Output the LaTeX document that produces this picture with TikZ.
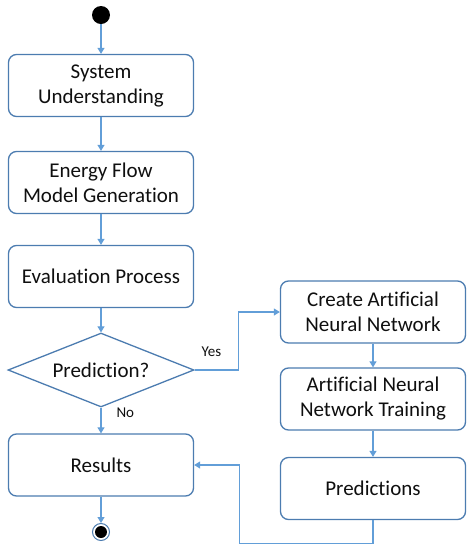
\documentclass[tikz,border=0pt]{standalone}
\usepackage{fontspec}
\setmainfont{Carlito}[Ligatures=NoCommon]
\usetikzlibrary{positioning,arrows.meta,calc,shapes.geometric}
\definecolor{flBox}{RGB}{76,124,176}
\definecolor{flLine}{RGB}{98,158,216}
\definecolor{flText}{RGB}{15,15,15}
\tikzset{
    base/.style={font=\fontsize{21}{25}\selectfont, align=center, text=flText},
    stage/.style={base, rectangle, rounded corners=8pt, draw=flBox, line width=1.3pt,
                  fill=white, minimum width=185pt, minimum height=62pt, inner sep=2pt},
    decision/.style={base, diamond, draw=flBox, line width=1.3pt, fill=white,
                     aspect=2.5, inner sep=0pt, minimum width=186pt, minimum height=74pt},
    startpt/.style={circle, fill=black, minimum size=18pt, inner sep=0pt},
    endpt/.style={circle, draw=flBox, line width=1pt, fill=white, minimum size=17pt, inner sep=0pt},
    endcore/.style={circle, fill=black, minimum size=12pt, inner sep=0pt},
    flow/.style={-{Triangle[width=7pt,length=6pt]}, line width=1.1pt, color=flLine},
    lbl/.style={font=\fontsize{15}{18}\selectfont, text=flText, inner sep=1pt}
}
\begin{document}
\begin{tikzpicture}[x=1pt, y=1pt]
  \useasboundingbox (0,0) rectangle (473,-550);
  % Left column
  \node[startpt] (start) at (101,-15) {};
  \node[stage] (sys) at (101,-85.5) {System\\Understanding};
  \node[stage] (efm) at (101,-182.5) {Energy Flow\\Model Generation};
  \node[stage] (eval) at (101,-276.5) {Evaluation Process};
  \node[decision] (pred) at (101,-370) {Prediction?};
  \node[stage] (res) at (101,-465) {Results};
  \node[endpt] (stop) at (101,-532) {};
  \node[endcore] at (stop.center) {};

  % Right column
  \node[stage] (ann) at (373,-312) {Create Artificial\\Neural Network};
  \node[stage] (train) at (373,-399) {Artificial Neural\\Network Training};
  \node[stage] (preds) at (373,-488.5) {Predictions};

  % Arrows
  \draw[flow] (start) -- (sys);
  \draw[flow] (sys) -- (efm);
  \draw[flow] (efm) -- (eval);
  \draw[flow] (eval) -- (pred.north);
  \draw[flow] (pred.east) -- node[lbl, above=12pt, pos=0.38] {Yes} ++(44,0) |- (ann.west);
  \draw[flow] (pred.south) -- node[lbl, right=14pt, pos=0.2] {No} (res);
  \draw[flow] (res) -- (stop);
  \draw[flow] (ann) -- (train);
  \draw[flow] (train) -- (preds);
  \draw[flow] (preds.south) -- ++(0,-23) -| ($(res.east)+(45,0)$) -- (res.east);
\end{tikzpicture}
\end{document}
